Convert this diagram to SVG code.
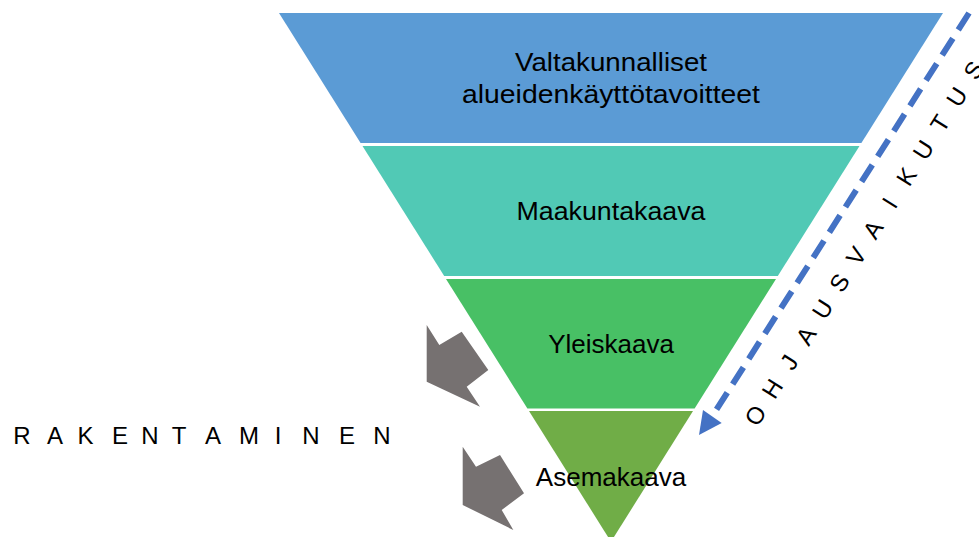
<svg xmlns="http://www.w3.org/2000/svg" width="979" height="537" viewBox="0 0 979 537">
<style>
.lbl{font-family:"Liberation Sans",Arial,sans-serif;font-size:26px;fill:#000;text-anchor:middle}
.sp{font-family:"Liberation Sans",Arial,sans-serif;font-size:24px;fill:#000;text-anchor:middle}
.garrow{fill:#767171}
</style>
<rect width="979" height="537" fill="#fff"/>
<g id="band1">
<polygon points="279,13 943,13 861.4,143 360.6,143" fill="#5B9BD5"/>
<text class="lbl" x="611" y="71" textLength="192" lengthAdjust="spacingAndGlyphs">Valtakunnalliset</text>
<text class="lbl" x="611" y="103" textLength="298" lengthAdjust="spacingAndGlyphs">alueidenkäyttötavoitteet</text>
</g>
<g id="band2">
<polygon points="362.5,146 859.5,146 777.8,276 444.2,276" fill="#51C9B5"/>
<text class="lbl" x="611" y="220" textLength="189" lengthAdjust="spacingAndGlyphs">Maakuntakaava</text>
</g>
<g id="band3">
<polygon points="446,279 776,279 694.6,408.5 527.4,408.5" fill="#48C065"/>
<text class="lbl" x="611" y="353">Yleiskaava</text>
</g>
<g id="band4">
<polygon points="529,411 693,411 611,541.7" fill="#70AD47"/>
<text class="lbl" x="611" y="486">Asemakaava</text>
</g>
<g id="connectors">
<line x1="969" y1="13" x2="713" y2="415" stroke="#4472C4" stroke-width="6" stroke-dasharray="20,10"/>
<polygon points="699,435 721.7,423 703,410" fill="#4472C4"/>
<polygon class="garrow" points="426.7,325 439.3,345 461.7,331.7 488.3,370 466.7,386.7 480,406.7 426.7,381.7"/>
<polygon class="garrow" points="462.7,446.7 476,466.7 500,455 524,493.3 501.7,510 513.3,530 462.7,505"/>
</g>
<g id="rakentaminen">
<text class="sp" x="22 55 85.5 120 150 179 213 249 278 311 347 382" y="444">RAKENTAMINEN</text>
</g>
<g id="ohjausvaikutus">
<text class="sp" transform="translate(755,415) rotate(-57.7)" x="0 31.4 62.8 94.2 125.6 157 188.4 219.8 251.2 282.6 314 345.4 376.8 408.2" y="9">OHJAUSVAIKUTUS</text>
</g>
</svg>
